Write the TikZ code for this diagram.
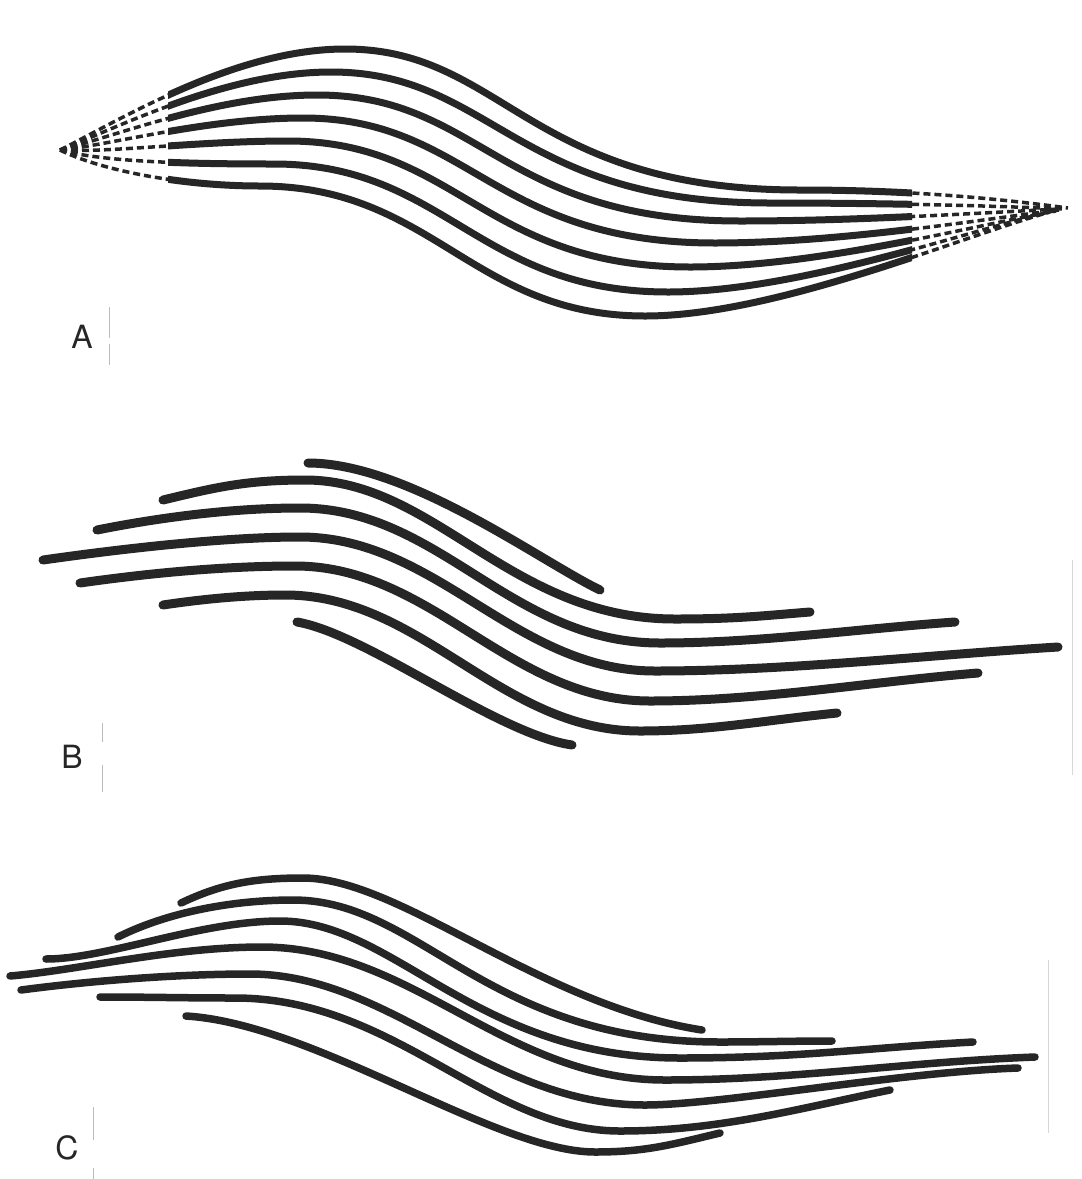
\documentclass[tikz,border=0pt]{standalone}
\usepackage{fontspec}
\setmainfont{TeX Gyre Heros}
\definecolor{ink}{HTML}{262626}
\definecolor{faint}{HTML}{BBBBBB}
\begin{document}
\begin{tikzpicture}[x=1pt,y=-1pt,
  bandA/.style={draw=ink, line width=7pt, line cap=round, line join=round},
  endA/.style={draw=ink, line width=3.5pt, dash pattern=on 7pt off 4pt},
  bandB/.style={draw=ink, line width=9pt, line cap=round, line join=round},
  bandC/.style={draw=ink, line width=7.5pt, line cap=round, line join=round},
  lbl/.style={font=\fontsize{32}{36}\selectfont, text=ink, inner sep=0pt},
  tick/.style={draw=faint, line width=1pt}]
\useasboundingbox (0,0) rectangle (1082,1179);
\fill[white] (0,0) rectangle (1082,1179);

% ---------- Panel A : seven lines converging at both ends ----------
\newcommand\Apath[1]{%
  \draw[#1] (60,150) .. controls +(\sx,\sy) and +(-\pl,0) .. (\px,\py)
    .. controls +(\ha,0) and +(-\hb,0) .. (\tx,\ty)
    .. controls +(\rh,0) and +(\qx,\qy) .. (\ex,\ey);}
\foreach \px/\py/\ha/\hb/\tx/\ty/\sx/\sy/\pl/\rh/\qx/\qy/\ex/\ey in {
  345/49/159/273/800/190/60/-30/110/120/-60/-8/1068/208,
  331/72/161/256/770/203/57/-22/105/122/-65/-3/1065/209,
  317/95/164/240/740/221/53/-13/100/123/-70/3/1062/209,
  303/118/166/223/715/243/50/-5/95/125/-75/9/1059/210,
  288/141/168/206/690/267/47/3/90/127/-80/14/1056/211,
  274/164/171/190/668/292/43/12/85/128/-85/20/1053/211,
  260/186/173/173/645/316/40/20/80/130/-90/25/1050/212} {
  \begin{scope}
    \clip (168,0) rectangle (912,400);
    \Apath{bandA}
  \end{scope}
  \begin{scope}
    \clip (0,0) rectangle (168,400);
    \Apath{endA}
  \end{scope}
  \begin{scope}
    \clip (912,0) rectangle (1082,400);
    \Apath{endA}
  \end{scope}
}

% ---------- Panel B : seven truncated lines ----------
\draw[bandB] (308,463) .. controls +(100,0) and +(-60,-29) .. (600,590);
\draw[bandB] (163,500) .. controls +(50,-12) and +(-60,0) .. (305,480)
  .. controls +(130,0) and +(-165,0) .. (675,619)
  .. controls +(60,0) and +(-50,4) .. (810,612);
\draw[bandB] (97,530) .. controls +(60,-12) and +(-70,0) .. (300,508)
  .. controls +(140,0) and +(-150,0) .. (660,643)
  .. controls +(100,0) and +(-100,7) .. (955,622);
\draw[bandB] (43,560) .. controls +(70,-10) and +(-80,0) .. (300,537)
  .. controls +(137,0) and +(-140,0) .. (655,671)
  .. controls +(130,0) and +(-130,8) .. (1058,647);
\draw[bandB] (80,583) .. controls +(70,-10) and +(-70,0) .. (295,566)
  .. controls +(137,0) and +(-140,0) .. (650,701)
  .. controls +(110,0) and +(-110,9) .. (978,673);
\draw[bandB] (163,605) .. controls +(40,-6) and +(-40,0) .. (285,595)
  .. controls +(137,0) and +(-140,0) .. (640,731)
  .. controls +(70,0) and +(-70,7) .. (837,713);
\draw[bandB] (297,622) .. controls +(70,12) and +(-75,-11) .. (572,745);

% ---------- Panel C : seven truncated lines ----------
\draw[bandC] (181,903) .. controls +(40,-19) and +(-50,0) .. (303,878)
  .. controls +(97,0) and +(-162,-25) .. (702,1030);
\draw[bandC] (118,937) .. controls +(50,-25) and +(-60,0) .. (293,900)
  .. controls +(128,0) and +(-235,0) .. (720,1042)
  .. controls +(40,0) and +(-40,0) .. (832,1041);
\draw[bandC] (46,959) .. controls +(60,0) and +(-80,0) .. (280,921)
  .. controls +(115,0) and +(-205,0) .. (680,1058)
  .. controls +(120,0) and +(-110,6) .. (973,1042);
\draw[bandC] (10,976) .. controls +(70,-6) and +(-90,0) .. (262,947)
  .. controls +(150,0) and +(-160,0) .. (665,1080)
  .. controls +(130,0) and +(-130,5) .. (1035,1057);
\draw[bandC] (21,990) .. controls +(60,-8) and +(-80,0) .. (250,974)
  .. controls +(140,0) and +(-155,0) .. (645,1105)
  .. controls +(75,0) and +(-118,4) .. (1018,1068);
\draw[bandC] (100,997) .. controls +(50,0) and +(-50,0) .. (235,998)
  .. controls +(160,0) and +(-132,0) .. (620,1131)
  .. controls +(100,0) and +(-90,18) .. (890,1090);
\draw[bandC] (186,1016) .. controls +(130,8) and +(-100,0) .. (595,1152)
  .. controls +(50,0) and +(-50,12) .. (720,1133);

% ---------- labels and faint page marks ----------
\node[lbl] (labA) at (82,337) {A};
\node[lbl] (labB) at (72,757) {B};
\node[lbl] (labC) at (67,1148) {C};
\draw[tick] (109,307) -- (109,338) (109,344) -- (109,365);
\draw[tick] (102,723) -- (102,742) (102,765) -- (102,792);
\draw[tick] (93,1107) -- (93,1140) (93,1168) -- (93,1179);
\draw[draw=faint!60, line width=0.8pt] (1072,560) -- (1072,775);
\draw[draw=faint!60, line width=0.8pt] (1048,960) -- (1048,1133);
\end{tikzpicture}
\end{document}
